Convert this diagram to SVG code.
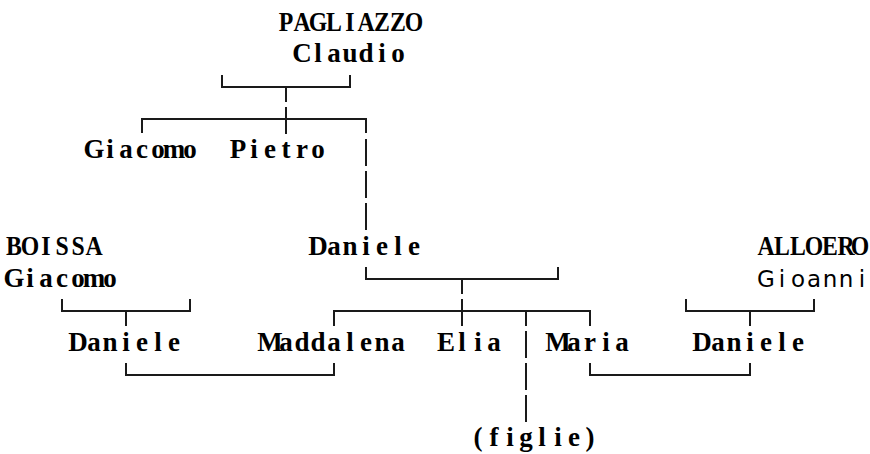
<svg xmlns="http://www.w3.org/2000/svg" width="870" height="454" viewBox="0 0 870 454">
<style>
.t{font-family:"Liberation Serif","DejaVu Serif",serif;font-size:27px;font-weight:bold;fill:#000;text-anchor:middle}
.s{font-family:"DejaVu Sans","Liberation Sans",sans-serif;font-size:23px;fill:#000;text-anchor:middle}
.c{fill:none;stroke:#1a1a1a;stroke-width:2}
</style>
<rect width="870" height="454" fill="#fff"/>
<g id="connectors" class="c">
<path d="M222,75 V87 H350 V75"/>
<path d="M286,87 V102"/>
<path d="M142,133 V119 H366 V133"/>
<path d="M286,107 V134"/>
<path d="M366,139 V166 M366,171 V198 M366,203 V230"/>
<path d="M366,267 V279 H558 V267"/>
<path d="M462,279 V294"/>
<path d="M62,299 V311 H190 V299"/>
<path d="M126,311 V326"/>
<path d="M334,326 V311 H590 V326"/>
<path d="M462,299 V326"/>
<path d="M526,311 V326"/>
<path d="M686,299 V311 H814 V299"/>
<path d="M750,311 V326"/>
<path d="M526,331 V358"/>
<path d="M126,363 V375 H334 V363"/>
<path d="M590,363 V375 H750 V363"/>
<path d="M526,363 V390 M526,395 V422"/>
</g>
<g id="pagliazzo-claudio">
<text class="t" transform="scale(0.88 1)" x="325 343.18 361.36 379.55 397.73 415.91 434.09 452.27 470.45" y="31">PAGLIAZZO</text>
<text class="t" x="302 318 334 350 366 382 398" y="62">Claudio</text>
</g>
<g id="giacomo-pagliazzo"><text class="t" x="94 110 126 142 158 174 190" y="158">Giacomo</text></g>
<g id="pietro"><text class="t" x="238 254 270 286 302 318" y="158">Pietro</text></g>
<g id="boissa-giacomo">
<text class="t" transform="scale(0.88 1)" x="15.91 34.09 52.27 70.45 88.64 106.82" y="255">BOISSA</text>
<text class="t" x="14 30 46 62 78 94 110" y="287">Giacomo</text>
</g>
<g id="daniele-pagliazzo"><text class="t" x="318 334 350 366 382 398 414" y="255">Daniele</text></g>
<g id="alloero-gioanni">
<text class="t" transform="scale(0.88 1)" x="870.45 888.64 906.82 925 943.18 961.36 977.27" y="255">ALLOERO</text>
<text class="s" x="766 782 798 814 830 846 862" y="287">Gioanni</text>
</g>
<g id="daniele-boissa"><text class="t" x="78 94 110 126 142 158 174" y="351">Daniele</text></g>
<g id="maddalena"><text class="t" x="270 286 302 318 334 350 366 382 398" y="351">Maddalena</text></g>
<g id="elia"><text class="t" x="446 462 478 494" y="351">Elia</text></g>
<g id="maria"><text class="t" x="558 574 590 606 622" y="351">Maria</text></g>
<g id="daniele-alloero"><text class="t" x="702 718 734 750 766 782 798" y="351">Daniele</text></g>
<g id="figlie"><text class="t" x="478 494 510 526 542 558 574 590" y="446">(figlie)</text></g>
</svg>
